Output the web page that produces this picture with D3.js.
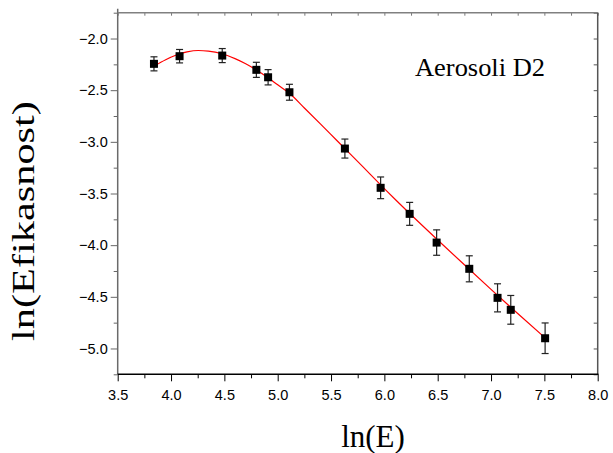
<!DOCTYPE html>
<html><head><meta charset="utf-8">
<script src="https://cdn.jsdelivr.net/npm/d3@7/dist/d3.min.js"></script>
<style>body{margin:0;background:#fff}svg{display:block}</style>
</head><body>
<svg id="chart" width="613" height="453"></svg>
<script>
// ---- data ----
const lnE    = [3.84, 4.08, 4.48, 4.80, 4.91, 5.11, 5.63, 5.965, 6.237, 6.49, 6.796, 7.061, 7.185, 7.507];
const lnEff  = [-2.245, -2.171, -2.165, -2.303, -2.375, -2.520, -3.065, -3.445, -3.697, -3.975, -4.229, -4.510, -4.626, -4.901];
const errEff = [0.068, 0.065, 0.068, 0.073, 0.074, 0.077, 0.092, 0.105, 0.111, 0.123, 0.126, 0.136, 0.139, 0.148];
// fitted curve, points
const fitX = [3.84, 3.95, 4.05, 4.15, 4.255, 4.35, 4.47, 4.60, 4.70, 4.80, 4.91, 5.00, 5.11, 5.25, 5.40, 5.55, 5.63, 5.80, 5.965, 6.10, 6.25, 6.50, 6.75, 7.00, 7.25, 7.507];
const fitY = [-2.268, -2.205, -2.160, -2.130, -2.116, -2.122, -2.145, -2.195, -2.245, -2.305, -2.380, -2.448, -2.530, -2.672, -2.826, -2.982, -3.065, -3.243, -3.417, -3.556, -3.706, -3.950, -4.190, -4.428, -4.662, -4.897];
const xTicks = [3.5, 4.0, 4.5, 5.0, 5.5, 6.0, 6.5, 7.0, 7.5, 8.0];
const xMinor = [3.75, 4.25, 4.75, 5.25, 5.75, 6.25, 6.75, 7.25, 7.75];
const yTicks = [-5.0, -4.5, -4.0, -3.5, -3.0, -2.5, -2.0];
const yMinor = [-5.25, -4.75, -4.25, -3.75, -3.25, -2.75, -2.25, -1.75];
const xTitle = "ln(E)";
const yTitle = "ln(Efikasnost)";
const seriesLabel = "Aerosoli D2";

// ---- layout ----
const svg = d3.select("#chart");
const L = 117.7, R = 597.7, T = 12.7, B = 374.3;
const x = d3.scaleLinear().domain([3.5, 8.0]).range([L, R]);
const y = d3.scaleLinear().domain([-5.25, -1.75]).range([B, T]);
const tickFont = "'Liberation Sans', Arial, sans-serif";
const serif = "'Liberation Serif', 'Times New Roman', serif";

// bottom axis
const gx = svg.append("g").attr("transform", `translate(0,${B})`)
  .call(d3.axisBottom(x).tickValues(xTicks).tickFormat(d3.format(".1f")).tickSize(7).tickPadding(12).tickSizeOuter(0));
const gxm = svg.append("g").attr("transform", `translate(0,${B})`)
  .call(d3.axisBottom(x).tickValues(xMinor).tickFormat("").tickSize(4).tickSizeOuter(0));
// left axis
const gy = svg.append("g").attr("transform", `translate(${L},0)`)
  .call(d3.axisLeft(y).tickValues(yTicks).tickFormat(d3.format(".1f")).tickSize(7).tickPadding(3).tickSizeOuter(0));
const gym = svg.append("g").attr("transform", `translate(${L},0)`)
  .call(d3.axisLeft(y).tickValues(yMinor).tickFormat("").tickSize(4).tickSizeOuter(0));
// top ticks (inward)
const gt = svg.append("g").attr("transform", `translate(0,${T})`)
  .call(d3.axisBottom(x).tickValues(xTicks.concat(xMinor)).tickFormat("").tickSize(3).tickSizeOuter(0));
// right ticks (inward)
const gr = svg.append("g").attr("transform", `translate(${R},0)`)
  .call(d3.axisLeft(y).tickValues(yTicks.concat(yMinor)).tickFormat("").tickSize(4).tickSizeOuter(0));

svg.selectAll(".domain").remove();
[gx, gxm].forEach(g => g.selectAll("line").attr("stroke", "#000"));
[gy, gym].forEach(g => g.selectAll("line").attr("stroke", "#666"));
gt.selectAll("line").attr("stroke", "#777");
gr.selectAll("line").attr("stroke", "#555");
svg.selectAll(".tick text").attr("font-family", tickFont).attr("font-size", 14.5).attr("fill", "#000");
gx.selectAll(".tick text").attr("dy", null).attr("y", 26);

// frame
svg.append("line").attr("x1", L).attr("x2", L).attr("y1", T - 4).attr("y2", B).attr("stroke", "#6a6a6a").attr("stroke-width", 1.5);
svg.append("line").attr("x1", L).attr("x2", R).attr("y1", T).attr("y2", T).attr("stroke", "#808080").attr("stroke-width", 1.5);
svg.append("line").attr("x1", R).attr("x2", R).attr("y1", T).attr("y2", B).attr("stroke", "#555").attr("stroke-width", 1.5);
svg.append("line").attr("x1", L).attr("x2", R + 0.75).attr("y1", B).attr("y2", B).attr("stroke", "#000").attr("stroke-width", 1.5);

// fitted curve
const fitData = fitX.map((v, i) => [v, fitY[i]]);
svg.append("path").datum(fitData)
  .attr("fill", "none").attr("stroke", "#ff0000").attr("stroke-width", 1.2)
  .attr("d", d3.line().x(d => x(d[0])).y(d => y(d[1])).curve(d3.curveMonotoneX));

// error bars and markers
const pts = lnE.map((v, i) => ({x: v, y: lnEff[i], e: errEff[i]}));
const eb = svg.append("g").attr("stroke", "#222").attr("stroke-width", 1.2);
pts.forEach(p => {
  const cx = x(p.x), y1 = y(p.y + p.e), y2 = y(p.y - p.e);
  eb.append("line").attr("x1", cx).attr("x2", cx).attr("y1", y1).attr("y2", y2);
  eb.append("line").attr("x1", cx - 3.5).attr("x2", cx + 3.5).attr("y1", y1).attr("y2", y1);
  eb.append("line").attr("x1", cx - 3.5).attr("x2", cx + 3.5).attr("y1", y2).attr("y2", y2);
});
svg.append("g").selectAll("rect").data(pts).join("rect")
  .attr("x", d => x(d.x) - 4).attr("y", d => y(d.y) - 4)
  .attr("width", 8).attr("height", 8).attr("fill", "#000");

// texts
svg.append("text").attr("x", 415).attr("y", 76)
  .attr("font-family", serif).attr("font-size", 26).attr("fill", "#000")
  .attr("textLength", 130).attr("lengthAdjust", "spacingAndGlyphs").text(seriesLabel);
svg.append("text").attr("x", 373).attr("y", 447).attr("text-anchor", "middle")
  .attr("font-family", serif).attr("font-size", 31).attr("fill", "#000").text(xTitle);
// y title: glyphs slightly stretched along the text direction as in the reference
const yt = svg.append("text").attr("text-anchor", "middle")
  .attr("font-family", serif).attr("font-size", 31).attr("fill", "#000").text(yTitle);
const natW = yt.node().getComputedTextLength();
yt.attr("transform", `translate(34,221) rotate(-90) scale(${240 / natW},1)`);
</script>
</body></html>
